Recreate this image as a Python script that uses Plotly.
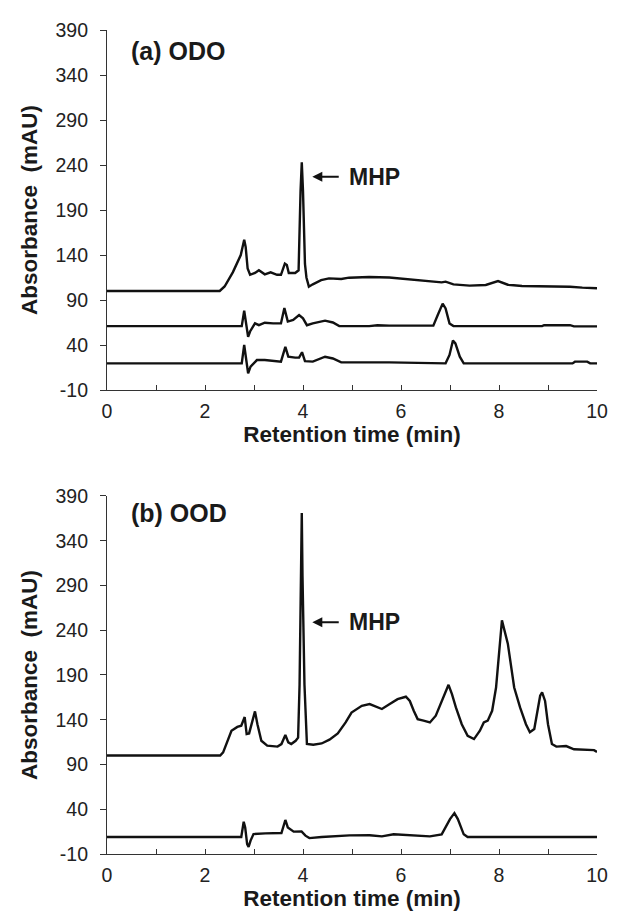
import plotly.graph_objects as go

# ---------------- data ----------------
# (a) ODO, trace III
time_a3 = [0, 2.30, 2.40, 2.57, 2.73, 2.80, 2.83, 2.87, 2.92, 3.02, 3.10, 3.22, 3.34, 3.47, 3.55,
           3.63, 3.67, 3.71, 3.84, 3.91, 3.95, 3.975, 4.00, 4.04, 4.07, 4.12, 4.20, 4.37, 4.53,
           4.78, 4.94, 5.35, 5.76, 6.17, 6.58, 6.83, 6.91, 7.07, 7.40, 7.73, 7.98, 8.18, 8.47,
           8.96, 9.45, 9.70, 10.0]
abs_a3 = [100, 100, 105, 121, 140, 157, 149, 125, 118, 120, 123, 118.5, 120.7, 118, 118,
          130.5, 129, 120, 120, 123, 211, 243, 211, 130, 115, 104.8, 107.4, 112, 114,
          113.3, 114.8, 115.6, 115, 113, 111.5, 109.6, 110.4, 107.4, 106, 106.7, 111, 107, 105.6,
          105.2, 104.8, 103.7, 103]

# (a) ODO, trace II
time_a2 = [0, 2.75, 2.80, 2.84, 2.88, 2.92, 3.02, 3.10, 3.22, 3.39, 3.55, 3.62, 3.69, 3.80,
           3.92, 4.00, 4.08, 4.20, 4.45, 4.61, 4.74, 5.35, 5.52, 5.76, 6.66, 6.75, 6.85, 6.91,
           6.99, 7.07, 8.88, 8.92, 9.45, 9.53, 10.0]
abs_a2 = [61, 61, 78, 64, 49, 55, 64, 62, 64.8, 64, 64, 81, 66, 67.8,
          73.3, 69.6, 62, 64, 67, 65, 61, 61, 62, 61.5, 61.5, 73.3, 86, 80.7,
          64, 61, 61, 62, 62, 60.7, 60.7]

# (a) ODO, trace I
time_a1 = [0, 2.75, 2.80, 2.84, 2.88, 2.93, 3.06, 3.22, 3.55, 3.64, 3.70, 3.84, 3.92, 3.98,
           4.04, 4.20, 4.45, 4.61, 4.78, 5.27, 5.76, 6.91, 6.99, 7.06, 7.11, 7.20, 7.28,
           9.50, 9.55, 9.80, 9.86, 10.0]
abs_a1 = [19.6, 19.6, 40, 26, 8.5, 16, 23.3, 23.3, 21.5, 38, 27, 26, 26, 32,
          22, 21.5, 27, 25, 20.7, 20.7, 20.7, 19.6, 29, 45, 41.8, 27, 19.6,
          19.6, 21.5, 21.5, 19.6, 19.6]

# (b) OOD, trace II
time_b2 = [0, 2.31, 2.37, 2.45, 2.54, 2.66, 2.74, 2.81, 2.85, 2.90, 2.97, 3.02, 3.07, 3.15,
           3.27, 3.48, 3.56, 3.64, 3.70, 3.76, 3.85, 3.90, 3.93, 3.96, 3.975, 3.99, 4.03,
           4.08, 4.21, 4.38, 4.54, 4.71, 4.87, 4.99, 5.20, 5.36, 5.48, 5.61, 5.77, 5.93,
           6.10, 6.18, 6.26, 6.34, 6.46, 6.59, 6.71, 6.83, 6.91, 6.97, 7.04, 7.12, 7.24,
           7.36, 7.49, 7.61, 7.69, 7.77, 7.86, 7.94, 8.06, 8.18, 8.31, 8.43, 8.55, 8.63,
           8.72, 8.78, 8.84, 8.88, 8.94, 9.00, 9.08, 9.17, 9.37, 9.53, 9.78, 9.94, 10.0]
abs_b2 = [100, 100, 103.5, 114.7, 127.7, 132, 133.3, 143, 124, 124.7, 139, 149.3, 135, 116.5,
          111, 110, 112.8, 123, 114.7, 112.8, 116.5, 120, 179, 300, 371, 300, 179,
          113, 112, 113.5, 117.7, 124.7, 137, 148, 155.6, 157.5, 154.5, 152, 157.5, 163,
          165.7, 161, 150, 140.7, 139, 137, 144.5, 161, 172, 179, 168.7, 153.8, 135,
          122, 118.4, 127.7, 137, 139, 150, 176, 251, 225, 176, 153.8, 135, 126,
          129.6, 146.3, 166.8, 170.5, 161, 135, 112.8, 110, 110.6, 107, 106, 106, 104]

# (b) OOD, trace I
time_b1 = [0, 2.74, 2.79, 2.82, 2.86, 2.89, 2.93, 2.99, 3.23, 3.56, 3.64, 3.69, 3.81, 3.97,
           4.05, 4.13, 4.38, 4.95, 5.36, 5.61, 5.85, 6.18, 6.59, 6.83, 7.00, 7.09, 7.16,
           7.28, 7.36, 10.0]
abs_b1 = [9, 9, 26, 19.7, 1, -2, 5, 12.3, 13, 13.4, 28, 19.7, 15, 15.3,
          10.5, 7.8, 9, 10.8, 11, 9.7, 12, 11, 9.7, 12, 29, 35.7, 29,
          12, 9, 9]

x_ticks = [0, 2, 4, 6, 8, 10]
x_tick_text = ["0", "2", "4", "6", "8", "10"]
y_ticks = [-10, 40, 90, 140, 190, 240, 290, 340, 390]
y_tick_text = ["-10", "40", "90", "140", "190", "240", "290", "340", "390"]
panel_titles = ["(a) ODO", "(b) OOD"]
labels_a = ["III", "II", "I"]
labels_a_y = [117, 63, 20]
labels_b = ["II", "I"]
labels_b_y = [106.5, 8]

# ---------------- figure ----------------
FONT = "Liberation Sans, Arial, Helvetica, sans-serif"
LINE = dict(color="#111111", width=2.4)
AX_COL = "#333333"

fig = go.Figure()
for xs, ys in [(time_a3, abs_a3), (time_a2, abs_a2), (time_a1, abs_a1)]:
    fig.add_trace(go.Scatter(x=xs, y=ys, mode="lines", line=LINE, xaxis="x", yaxis="y",
                             showlegend=False, hoverinfo="skip"))
for xs, ys in [(time_b2, abs_b2), (time_b1, abs_b1)]:
    fig.add_trace(go.Scatter(x=xs, y=ys, mode="lines", line=LINE, xaxis="x2", yaxis="y2",
                             showlegend=False, hoverinfo="skip"))

tick_font = dict(family=FONT, size=19.5, color="#222222")
bold_font = dict(family=FONT, size=23, color="#1a1a1a", weight="bold")
title_font = dict(family=FONT, size=22.5, color="#1a1a1a", weight="bold")
panel_font = dict(family=FONT, size=25, color="#1a1a1a", weight="bold")


def xaxis(anchor):
    return dict(anchor=anchor, domain=[0, 1], range=[0, 10], tickvals=x_ticks,
                ticktext=x_tick_text,
                ticks="inside", ticklen=5, tickwidth=1.2, tickcolor=AX_COL,
                showline=True, linecolor=AX_COL, linewidth=1.2, showgrid=False, zeroline=False,
                minor=dict(dtick=1, tick0=0, ticks="inside", ticklen=5, tickwidth=1.2,
                           tickcolor=AX_COL, showgrid=False),
                tickfont=tick_font, ticklabelstandoff=3, automargin=False,
                title=dict(text="Retention time (min)", font=title_font, standoff=5))


def yaxis(anchor, dom):
    return dict(anchor=anchor, domain=dom, range=[-10, 390], tickvals=y_ticks,
                ticktext=y_tick_text,
                ticks="outside", ticklen=6, tickwidth=1.2, tickcolor=AX_COL,
                showline=True, linecolor=AX_COL, linewidth=1.2, showgrid=False, zeroline=False,
                tickfont=tick_font, ticklabelstandoff=8, automargin=False,
                title=dict(text="Absorbance\u00a0\u00a0(mAU)", font=title_font, standoff=11))


annotations = []
for i, (xr, yr) in enumerate([("x", "y"), ("x2", "y2")]):
    annotations.append(dict(x=0.44, y=367 if i == 0 else 371, xref=xr, yref=yr,
                            text=panel_titles[i], showarrow=False, xanchor="left",
                            yanchor="middle", font=panel_font))
# MHP arrows
for xr, yr, ytip in [("x", "y", 227), ("x2", "y2", 249)]:
    annotations.append(dict(x=4.19, y=ytip, ax=4.76, ay=ytip, xref=xr, yref=yr,
                            axref=xr, ayref=yr, text="", showarrow=True, arrowhead=2,
                            arrowsize=1, arrowwidth=2, arrowcolor="#111111"))
    annotations.append(dict(x=4.9, y=ytip, xref=xr, yref=yr, text="MHP", showarrow=False,
                            xanchor="left", yanchor="middle", font=bold_font))
for lab, yv in zip(labels_a, labels_a_y):
    annotations.append(dict(x=10.6, y=yv, xref="x", yref="y", text=lab, showarrow=False,
                            xanchor="center", yanchor="middle", font=bold_font))
for lab, yv in zip(labels_b, labels_b_y):
    annotations.append(dict(x=10.6, y=yv, xref="x2", yref="y2", text=lab, showarrow=False,
                            xanchor="center", yanchor="middle", font=bold_font))

fig.update_layout(
    width=629, height=912,
    margin=dict(l=99, r=40, t=22, b=66),
    paper_bgcolor="white", plot_bgcolor="white",
    xaxis=xaxis("y"), yaxis=yaxis("x", [0.5631, 1.0]),
    xaxis2=xaxis("y2"), yaxis2=yaxis("x2", [0.0, 0.4345]),
    annotations=annotations,
    showlegend=False,
)

fig.write_html("out.html")
